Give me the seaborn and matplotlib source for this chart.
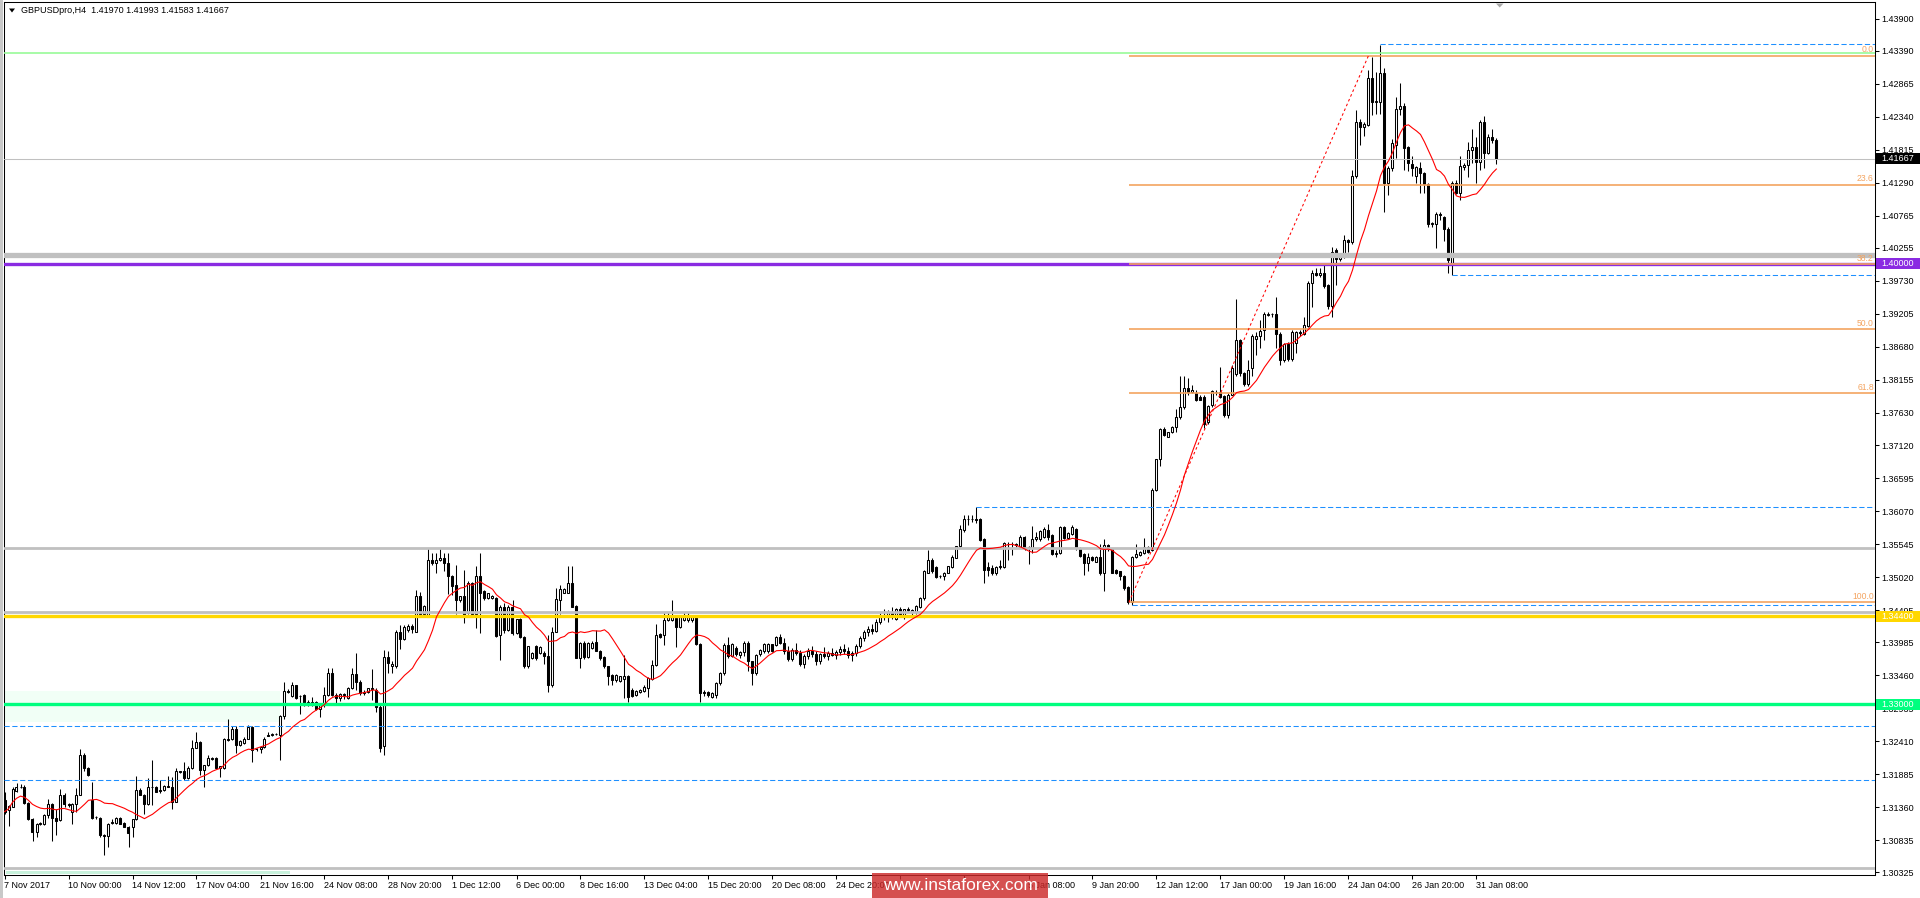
import numpy as np
import pandas as pd
import matplotlib
matplotlib.use("Agg")
import matplotlib.pyplot as plt
import matplotlib.transforms as mtransforms
from matplotlib.patches import Rectangle, Polygon
import seaborn as sns

# ---- data (open, high, low, close), GBPUSD H4 ----
title_text = "GBPUSDpro,H4  1.41970 1.41993 1.41583 1.41667"

nov_bars = [
    (1.3148, 1.3161, 1.3126, 1.3129), (1.3131, 1.3139, 1.3107, 1.3138), (1.3137, 1.3169, 1.3136, 1.3165),
    (1.3162, 1.3174, 1.3161, 1.3169), (1.3169, 1.3173, 1.3167, 1.3168), (1.3168, 1.3171, 1.3142, 1.3143),
    (1.3143, 1.3145, 1.3116, 1.3117), (1.3118, 1.3119, 1.3083, 1.3097), (1.3097, 1.3111, 1.3089, 1.3110),
    (1.3110, 1.3113, 1.3108, 1.3111), (1.3110, 1.3126, 1.3108, 1.3124), (1.3124, 1.3150, 1.3119, 1.3142),
    (1.3142, 1.3143, 1.3083, 1.3119), (1.3119, 1.3134, 1.3092, 1.3115), (1.3116, 1.3165, 1.3115, 1.3156),
    (1.3156, 1.3158, 1.3137, 1.3142), (1.3142, 1.3143, 1.3137, 1.3140), (1.3129, 1.3143, 1.3110, 1.3142),
    (1.3142, 1.3166, 1.3128, 1.3156), (1.3156, 1.3228, 1.3155, 1.3219), (1.3219, 1.3222, 1.3193, 1.3198),
    (1.3198, 1.3200, 1.3185, 1.3187), (1.3148, 1.3177, 1.3117, 1.3119), (1.3120, 1.3122, 1.3117, 1.3121),
    (1.3119, 1.3120, 1.3089, 1.3092), (1.3092, 1.3094, 1.3060, 1.3091), (1.3090, 1.3111, 1.3073, 1.3110),
    (1.3111, 1.3118, 1.3109, 1.3112), (1.3111, 1.3120, 1.3110, 1.3119), (1.3119, 1.3120, 1.3109, 1.3110),
    (1.3111, 1.3113, 1.3104, 1.3105), (1.3105, 1.3107, 1.3073, 1.3095), (1.3105, 1.3118, 1.3089, 1.3117),
    (1.3117, 1.3186, 1.3116, 1.3164), (1.3163, 1.3166, 1.3155, 1.3156), (1.3156, 1.3157, 1.3126, 1.3141),
    (1.3141, 1.3182, 1.3140, 1.3169), (1.3169, 1.3212, 1.3140, 1.3168), (1.3169, 1.3170, 1.3160, 1.3161),
    (1.3163, 1.3179, 1.3158, 1.3162), (1.3163, 1.3171, 1.3162, 1.3170), (1.3170, 1.3186, 1.3168, 1.3169),
    (1.3168, 1.3184, 1.3133, 1.3145), (1.3145, 1.3198, 1.3144, 1.3193), (1.3193, 1.3194, 1.3190, 1.3192),
    (1.3193, 1.3208, 1.3179, 1.3182), (1.3182, 1.3201, 1.3181, 1.3198), (1.3198, 1.3243, 1.3197, 1.3231),
    (1.3231, 1.3256, 1.3230, 1.3240), (1.3240, 1.3241, 1.3187, 1.3195), (1.3195, 1.3204, 1.3168, 1.3203),
    (1.3203, 1.3219, 1.3202, 1.3214), (1.3214, 1.3216, 1.3211, 1.3213), (1.3215, 1.3216, 1.3197, 1.3198),
    (1.3198, 1.3202, 1.3184, 1.3201), (1.3198, 1.3246, 1.3197, 1.3244), (1.3244, 1.3277, 1.3242, 1.3243),
    (1.3244, 1.3265, 1.3243, 1.3261), (1.3261, 1.3265, 1.3222, 1.3235), (1.3235, 1.3243, 1.3234, 1.3242),
    (1.3238, 1.3247, 1.3237, 1.3245), (1.3245, 1.3267, 1.3244, 1.3264), (1.3264, 1.3265, 1.3208, 1.3227),
    (1.3228, 1.3230, 1.3226, 1.3228), (1.3228, 1.3234, 1.3222, 1.3232), (1.3232, 1.3247, 1.3231, 1.3245),
    (1.3251, 1.3256, 1.3249, 1.3250), (1.3251, 1.3254, 1.3250, 1.3253), (1.3253, 1.3254, 1.3251, 1.3252),
    (1.3251, 1.3283, 1.3212, 1.3281), (1.3281, 1.3336, 1.3277, 1.3321), (1.3321, 1.3324, 1.3318, 1.3320),
    (1.3313, 1.3336, 1.3312, 1.3330), (1.3330, 1.3331, 1.3308, 1.3309), (1.3313, 1.3315, 1.3285, 1.3313),
    (1.3315, 1.3316, 1.3297, 1.3298), (1.3298, 1.3307, 1.3297, 1.3304), (1.3298, 1.3312, 1.3297, 1.3304),
    (1.3304, 1.3305, 1.3291, 1.3292), (1.3293, 1.3300, 1.3279, 1.3299), (1.3298, 1.3328, 1.3296, 1.3315),
    (1.3315, 1.3357, 1.3313, 1.3349), (1.3349, 1.3358, 1.3313, 1.3315), (1.3315, 1.3318, 1.3302, 1.3310),
    (1.3310, 1.3317, 1.3305, 1.3316), (1.3316, 1.3318, 1.3308, 1.3314), (1.3310, 1.3327, 1.3308, 1.3325),
    (1.3325, 1.3357, 1.3324, 1.3348), (1.3348, 1.3382, 1.3322, 1.3336), (1.3336, 1.3338, 1.3314, 1.3317),
    (1.3317, 1.3322, 1.3315, 1.3320), (1.3320, 1.3326, 1.3318, 1.3325), (1.3325, 1.3356, 1.3307, 1.3324),
    (1.3323, 1.3325, 1.3288, 1.3296), (1.3296, 1.3298, 1.3224, 1.3230), (1.3233, 1.3386, 1.3219, 1.3375),
    (1.3375, 1.3384, 1.3350, 1.3365), (1.3361, 1.3368, 1.3349, 1.3364), (1.3360, 1.3418, 1.3358, 1.3415),
    (1.3415, 1.3426, 1.3387, 1.3403), (1.3403, 1.3426, 1.3402, 1.3423), (1.3418, 1.3427, 1.3415, 1.3424),
    (1.3424, 1.3428, 1.3413, 1.3420), (1.3415, 1.3481, 1.3414, 1.3472), (1.3472, 1.3479, 1.3439, 1.3444),
    (1.3444, 1.3458, 1.3443, 1.3456), (1.3439, 1.3548, 1.3438, 1.3529), (1.3529, 1.3540, 1.3521, 1.3524),
    (1.3524, 1.3540, 1.3508, 1.3529),
]

dec_bars = [
    (1.3529, 1.3548, 1.3528, 1.3532), (1.3532, 1.3540, 1.3511, 1.3525), (1.3525, 1.3541, 1.3475, 1.3503),
    (1.3503, 1.3505, 1.3474, 1.3488), (1.3490, 1.3521, 1.3444, 1.3466), (1.3466, 1.3472, 1.3463, 1.3472),
    (1.3472, 1.3513, 1.3429, 1.3439), (1.3445, 1.3495, 1.3444, 1.3492), (1.3492, 1.3494, 1.3443, 1.3444),
    (1.3444, 1.3519, 1.3421, 1.3504), (1.3504, 1.3540, 1.3413, 1.3477), (1.3480, 1.3482, 1.3466, 1.3468),
    (1.3468, 1.3477, 1.3467, 1.3476), (1.3468, 1.3473, 1.3467, 1.3472), (1.3468, 1.3471, 1.3407, 1.3408),
    (1.3410, 1.3458, 1.3370, 1.3455), (1.3455, 1.3461, 1.3413, 1.3418), (1.3418, 1.3458, 1.3416, 1.3455),
    (1.3455, 1.3466, 1.3410, 1.3413), (1.3413, 1.3436, 1.3411, 1.3435), (1.3435, 1.3437, 1.3405, 1.3406),
    (1.3406, 1.3408, 1.3357, 1.3360), (1.3360, 1.3393, 1.3358, 1.3392), (1.3373, 1.3383, 1.3371, 1.3382),
    (1.3392, 1.3394, 1.3370, 1.3373), (1.3381, 1.3393, 1.3379, 1.3391), (1.3382, 1.3384, 1.3364, 1.3376),
    (1.3376, 1.3410, 1.3320, 1.3331), (1.3331, 1.3423, 1.3328, 1.3415), (1.3415, 1.3484, 1.3414, 1.3467),
    (1.3466, 1.3490, 1.3444, 1.3483), (1.3477, 1.3484, 1.3476, 1.3483), (1.3477, 1.3519, 1.3476, 1.3492),
    (1.3492, 1.3519, 1.3454, 1.3455), (1.3456, 1.3458, 1.3373, 1.3374), (1.3374, 1.3399, 1.3357, 1.3397),
    (1.3397, 1.3400, 1.3372, 1.3375), (1.3375, 1.3399, 1.3373, 1.3398), (1.3390, 1.3400, 1.3388, 1.3398),
    (1.3399, 1.3418, 1.3384, 1.3385), (1.3385, 1.3386, 1.3370, 1.3373), (1.3375, 1.3377, 1.3357, 1.3360),
    (1.3360, 1.3361, 1.3331, 1.3344), (1.3346, 1.3348, 1.3331, 1.3338), (1.3338, 1.3348, 1.3336, 1.3346),
    (1.3337, 1.3345, 1.3335, 1.3344), (1.3340, 1.3378, 1.3309, 1.3345), (1.3345, 1.3347, 1.3304, 1.3312),
    (1.3323, 1.3325, 1.3311, 1.3313), (1.3315, 1.3322, 1.3313, 1.3321), (1.3320, 1.3324, 1.3318, 1.3323),
    (1.3321, 1.3330, 1.3319, 1.3328), (1.3325, 1.3343, 1.3312, 1.3341), (1.3340, 1.3370, 1.3338, 1.3362),
    (1.3362, 1.3428, 1.3360, 1.3410), (1.3411, 1.3413, 1.3405, 1.3407), (1.3410, 1.3447, 1.3394, 1.3434),
    (1.3434, 1.3447, 1.3432, 1.3442), (1.3434, 1.3466, 1.3432, 1.3439), (1.3437, 1.3438, 1.3391, 1.3423),
    (1.3423, 1.3441, 1.3421, 1.3439), (1.3434, 1.3447, 1.3432, 1.3439), (1.3434, 1.3447, 1.3430, 1.3440),
    (1.3433, 1.3441, 1.3431, 1.3439), (1.3439, 1.3442, 1.3394, 1.3396), (1.3396, 1.3398, 1.3304, 1.3317),
    (1.3320, 1.3322, 1.3313, 1.3317), (1.3320, 1.3321, 1.3311, 1.3315), (1.3312, 1.3319, 1.3310, 1.3317),
    (1.3315, 1.3336, 1.3309, 1.3334), (1.3333, 1.3351, 1.3331, 1.3350), (1.3349, 1.3398, 1.3347, 1.3394),
    (1.3394, 1.3407, 1.3374, 1.3376), (1.3377, 1.3398, 1.3375, 1.3396), (1.3390, 1.3393, 1.3376, 1.3379),
    (1.3378, 1.3385, 1.3374, 1.3383), (1.3383, 1.3400, 1.3376, 1.3398), (1.3398, 1.3401, 1.3352, 1.3368),
    (1.3368, 1.3369, 1.3331, 1.3349), (1.3349, 1.3380, 1.3347, 1.3378), (1.3379, 1.3387, 1.3377, 1.3386),
    (1.3384, 1.3397, 1.3382, 1.3396), (1.3384, 1.3397, 1.3382, 1.3396), (1.3395, 1.3396, 1.3383, 1.3384),
    (1.3394, 1.3408, 1.3392, 1.3407), (1.3407, 1.3412, 1.3395, 1.3398), (1.3398, 1.3405, 1.3380, 1.3384),
    (1.3384, 1.3392, 1.3368, 1.3372), (1.3372, 1.3390, 1.3368, 1.3386), (1.3386, 1.3398, 1.3378, 1.3381),
    (1.3381, 1.3386, 1.3360, 1.3364), (1.3364, 1.3380, 1.3358, 1.3377), (1.3377, 1.3389, 1.3372, 1.3385),
    (1.3385, 1.3393, 1.3375, 1.3379), (1.3379, 1.3384, 1.3362, 1.3368), (1.3368, 1.3382, 1.3364, 1.3380),
    (1.3380, 1.3391, 1.3374, 1.3376), (1.3376, 1.3385, 1.3370, 1.3382), (1.3382, 1.3390, 1.3376, 1.3378),
    (1.3378, 1.3386, 1.3372, 1.3383), (1.3383, 1.3392, 1.3378, 1.3388), (1.3388, 1.3396, 1.3380, 1.3384),
    (1.3384, 1.3391, 1.3374, 1.3378), (1.3378, 1.3385, 1.3369, 1.3381), (1.3381, 1.3395, 1.3377, 1.3393),
    (1.3393, 1.3408, 1.3389, 1.3405), (1.3405, 1.3418, 1.3400, 1.3414), (1.3414, 1.3425, 1.3408, 1.3420),
    (1.3420, 1.3428, 1.3412, 1.3417), (1.3417, 1.3435, 1.3414, 1.3431), (1.3431, 1.3445, 1.3427, 1.3440),
    (1.3440, 1.3452, 1.3433, 1.3438), (1.3438, 1.3450, 1.3430, 1.3446), (1.3446, 1.3454, 1.3436, 1.3440),
    (1.3436, 1.3453, 1.3434, 1.3451), (1.3451, 1.3454, 1.3442, 1.3444), (1.3438, 1.3452, 1.3436, 1.3451),
    (1.3451, 1.3455, 1.3446, 1.3450), (1.3446, 1.3452, 1.3440, 1.3450), (1.3446, 1.3458, 1.3444, 1.3456),
    (1.3455, 1.3471, 1.3453, 1.3468), (1.3468, 1.3513, 1.3466, 1.3511), (1.3509, 1.3545, 1.3508, 1.3529),
    (1.3529, 1.3532, 1.3509, 1.3511), (1.3518, 1.3519, 1.3500, 1.3502), (1.3503, 1.3506, 1.3501, 1.3504),
    (1.3503, 1.3510, 1.3498, 1.3509),
]

jan_bars = [
    (1.3509, 1.3520, 1.3508, 1.3519), (1.3518, 1.3537, 1.3517, 1.3534), (1.3533, 1.3552, 1.3532, 1.3551),
    (1.3551, 1.3585, 1.3550, 1.3578), (1.3577, 1.3601, 1.3574, 1.3595), (1.3595, 1.3601, 1.3585, 1.3594),
    (1.3594, 1.3601, 1.3590, 1.3595), (1.3595, 1.3613, 1.3588, 1.3593), (1.3594, 1.3596, 1.3560, 1.3561),
    (1.3562, 1.3564, 1.3493, 1.3513), (1.3518, 1.3526, 1.3503, 1.3514), (1.3516, 1.3521, 1.3505, 1.3509),
    (1.3509, 1.3519, 1.3505, 1.3518), (1.3518, 1.3529, 1.3515, 1.3520), (1.3518, 1.3557, 1.3516, 1.3556),
    (1.3555, 1.3557, 1.3529, 1.3554), (1.3554, 1.3557, 1.3537, 1.3555), (1.3555, 1.3556, 1.3550, 1.3553),
    (1.3550, 1.3569, 1.3549, 1.3566), (1.3566, 1.3568, 1.3545, 1.3550), (1.3550, 1.3552, 1.3523, 1.3548),
    (1.3548, 1.3583, 1.3541, 1.3562), (1.3562, 1.3574, 1.3560, 1.3566), (1.3562, 1.3577, 1.3560, 1.3576),
    (1.3566, 1.3582, 1.3564, 1.3578), (1.3577, 1.3586, 1.3561, 1.3566), (1.3569, 1.3571, 1.3537, 1.3539),
    (1.3539, 1.3545, 1.3534, 1.3540), (1.3540, 1.3583, 1.3538, 1.3582), (1.3582, 1.3583, 1.3562, 1.3564),
    (1.3564, 1.3573, 1.3562, 1.3572), (1.3571, 1.3585, 1.3569, 1.3582), (1.3578, 1.3580, 1.3545, 1.3548),
    (1.3548, 1.3550, 1.3534, 1.3535), (1.3539, 1.3541, 1.3505, 1.3524), (1.3524, 1.3540, 1.3511, 1.3534),
    (1.3534, 1.3536, 1.3527, 1.3529), (1.3526, 1.3536, 1.3526, 1.3534), (1.3534, 1.3555, 1.3505, 1.3508),
    (1.3508, 1.3562, 1.3480, 1.3553), (1.3553, 1.3555, 1.3544, 1.3546), (1.3546, 1.3548, 1.3508, 1.3509),
    (1.3513, 1.3515, 1.3507, 1.3508), (1.3511, 1.3512, 1.3497, 1.3503), (1.3504, 1.3505, 1.3481, 1.3484),
    (1.3486, 1.3488, 1.3460, 1.3463), (1.3463, 1.3536, 1.3457, 1.3534), (1.3534, 1.3555, 1.3532, 1.3539),
    (1.3537, 1.3543, 1.3535, 1.3542), (1.3541, 1.3564, 1.3539, 1.3550), (1.3550, 1.3552, 1.3540, 1.3542),
    (1.3545, 1.3643, 1.3543, 1.3641), (1.3641, 1.3690, 1.3639, 1.3689), (1.3689, 1.3739, 1.3678, 1.3737),
    (1.3737, 1.3741, 1.3726, 1.3728), (1.3725, 1.3732, 1.3724, 1.3732), (1.3732, 1.3742, 1.3731, 1.3740),
    (1.3740, 1.3770, 1.3733, 1.3756), (1.3756, 1.3822, 1.3754, 1.3772), (1.3772, 1.3821, 1.3770, 1.3802),
    (1.3802, 1.3818, 1.3791, 1.3797), (1.3797, 1.3807, 1.3794, 1.3799), (1.3794, 1.3800, 1.3782, 1.3783),
    (1.3789, 1.3791, 1.3783, 1.3784), (1.3789, 1.3791, 1.3739, 1.3746), (1.3749, 1.3775, 1.3746, 1.3774),
    (1.3775, 1.3799, 1.3773, 1.3798), (1.3797, 1.3799, 1.3792, 1.3796), (1.3797, 1.3836, 1.3786, 1.3789),
    (1.3790, 1.3792, 1.3757, 1.3760), (1.3760, 1.3795, 1.3755, 1.3792), (1.3792, 1.3839, 1.3791, 1.3835),
    (1.3825, 1.3944, 1.3822, 1.3879), (1.3879, 1.3881, 1.3821, 1.3826), (1.3826, 1.3828, 1.3806, 1.3809),
    (1.3809, 1.3847, 1.3806, 1.3832), (1.3834, 1.3889, 1.3821, 1.3885), (1.3881, 1.3892, 1.3855, 1.3885),
    (1.3885, 1.3911, 1.3866, 1.3893), (1.3895, 1.3924, 1.3879, 1.3921), (1.3919, 1.3924, 1.3917, 1.3921),
    (1.3921, 1.3922, 1.3915, 1.3920), (1.3921, 1.3948, 1.3866, 1.3889), (1.3889, 1.3891, 1.3839, 1.3847),
    (1.3847, 1.3874, 1.3844, 1.3873), (1.3873, 1.3876, 1.3846, 1.3848), (1.3848, 1.3895, 1.3846, 1.3892),
    (1.3874, 1.3893, 1.3858, 1.3891), (1.3891, 1.3895, 1.3885, 1.3890), (1.3889, 1.3916, 1.3887, 1.3903),
    (1.3901, 1.3972, 1.3900, 1.3969), (1.3969, 1.3990, 1.3932, 1.3985), (1.3985, 1.3993, 1.3980, 1.3983),
    (1.3983, 1.3994, 1.3979, 1.3985), (1.3985, 1.4001, 1.3961, 1.3964), (1.3966, 1.3968, 1.3929, 1.3933),
    (1.3933, 1.4027, 1.3916, 1.4019), (1.4022, 1.4025, 1.3966, 1.4007), (1.4007, 1.4013, 1.4005, 1.4011),
    (1.4011, 1.4046, 1.4009, 1.4038), (1.4038, 1.4040, 1.4019, 1.4034), (1.4034, 1.4149, 1.4032, 1.4139),
    (1.4139, 1.4245, 1.4136, 1.4225), (1.4225, 1.4230, 1.4189, 1.4218), (1.4218, 1.4226, 1.4203, 1.4222),
    (1.4221, 1.4308, 1.4219, 1.4295), (1.4295, 1.4329, 1.4237, 1.4258), (1.4258, 1.4305, 1.4239, 1.4259),
    (1.4258, 1.4348, 1.4239, 1.4304), (1.4304, 1.4311, 1.4083, 1.4128), (1.4128, 1.4155, 1.4109, 1.4152),
    (1.4152, 1.4199, 1.4147, 1.4192), (1.4189, 1.4266, 1.4169, 1.4246), (1.4246, 1.4288, 1.4237, 1.4251),
    (1.4251, 1.4255, 1.4149, 1.4184), (1.4186, 1.4188, 1.4147, 1.4160), (1.4159, 1.4171, 1.4139, 1.4153),
    (1.4139, 1.4155, 1.4128, 1.4154), (1.4152, 1.4162, 1.4112, 1.4144), (1.4144, 1.4146, 1.4112, 1.4127),
    (1.4127, 1.4129, 1.4059, 1.4064), (1.4064, 1.4067, 1.4059, 1.4065), (1.4064, 1.4083, 1.4025, 1.4080),
    (1.4080, 1.4082, 1.4070, 1.4077), (1.4074, 1.4076, 1.4037, 1.4056), (1.4056, 1.4058, 1.3985, 1.4006),
    (1.3998, 1.4131, 1.3982, 1.4129), (1.4129, 1.4133, 1.4111, 1.4113), (1.4113, 1.4171, 1.4101, 1.4155),
    (1.4154, 1.4161, 1.4150, 1.4157), (1.4157, 1.4194, 1.4138, 1.4181), (1.4181, 1.4215, 1.4160, 1.4186),
    (1.4186, 1.4201, 1.4128, 1.4162), (1.4162, 1.4228, 1.4149, 1.4226), (1.4225, 1.4235, 1.4153, 1.4177),
    (1.4176, 1.4206, 1.4174, 1.4201), (1.4201, 1.4215, 1.4192, 1.4197), (1.41970, 1.41993, 1.41583, 1.41667),
]

price_ticks = [1.43900, 1.43390, 1.42865, 1.42340, 1.41815, 1.41290, 1.40765, 1.40255, 1.39730,
               1.39205, 1.38680, 1.38155, 1.37630, 1.37120, 1.36595, 1.36070, 1.35545, 1.35020,
               1.34495, 1.33985, 1.33460, 1.32935, 1.32410, 1.31885, 1.31360, 1.30835, 1.30325]

# the two labels under the watermark are not readable in the screenshot
time_tick_bars = [0, 16, 32, 48, 64, 80, 96, 112, 128, 144, 160, 176, 192, 208, 224, 240,
                  256, 272, 288, 304, 320, 336, 352, 368]
time_tick_labels = ["7 Nov 2017", "10 Nov 00:00", "14 Nov 12:00", "17 Nov 04:00", "21 Nov 16:00",
                    "24 Nov 08:00", "28 Nov 20:00", "1 Dec 12:00", "6 Dec 00:00", "8 Dec 16:00",
                    "13 Dec 04:00", "15 Dec 20:00", "20 Dec 08:00", "24 Dec 20:00", "",
                    "", "5 Jan 08:00", "9 Jan 20:00", "12 Jan 12:00", "17 Jan 00:00",
                    "19 Jan 16:00", "24 Jan 04:00", "26 Jan 20:00", "31 Jan 08:00"]

# horizontal levels drawn on the chart
current_price = 1.41667
round_levels = {"purple": 1.40000, "gold": 1.34400, "green": 1.33000}
grey_levels = [1.4014, 1.3549, 1.3446, 1.3039]
top_line = 1.4336
dashed_levels = [(344, 1.4349), (362, 1.3982), (243, 1.3613), (282, 1.3457), (None, 1.3266), (None, 1.3179)]

fib_low, fib_high = 1.3462, 1.4331
fib_start, fib_end = 281.1, 341
fib_ratios = [0.0, 0.236, 0.382, 0.5, 0.618, 1.0]
fib_names = ["0.0", "23.6", "38.2", "50.0", "61.8", "100.0"]

# ---- figure ----
W, H = 1920, 898
sns.set_theme(style="white")
plt.rcParams["font.family"] = ["Liberation Sans", "DejaVu Sans"]

fig = plt.figure(figsize=(W / 100, H / 100), dpi=100)
fig.patch.set_facecolor("white")
L, R, T, B = 4, 1875, 2, 875
ax = fig.add_axes([L / W, 1 - B / H, (R - L) / W, (B - T) / H])
ax.set_facecolor("white")

bars = pd.DataFrame(nov_bars + dec_bars + jan_bars, columns=["open", "high", "low", "close"])
bars["bar"] = np.arange(len(bars))
bars["ma"] = bars["close"].rolling(14, min_periods=1).mean()

x_lo = -0.125
x_hi = x_lo + (R - L) / 4.0
y_hi = 1.44163
y_lo = y_hi - (B - T) / 6290.0

# background objects
ax.add_patch(Rectangle((x_lo, 1.3272), 69 - x_lo, 0.0049, color="#f1fff6", zorder=0.5, lw=0))
ax.add_patch(Rectangle((x_lo + 0.5, 1.30300), 71, 0.00045, color="#c8f2dc", zorder=0.6, lw=0))

# candles
up = bars["close"] >= bars["open"]
body = (bars["close"] - bars["open"]).abs().clip(lower=0.00002)
ax.vlines(bars["bar"], bars["low"], bars["high"], color="black", lw=0.75, zorder=3)
ax.bar(bars["bar"][up], body[up], bottom=bars["open"][up], width=0.5,
       color="white", edgecolor="black", linewidth=0.75, zorder=3.5)
ax.bar(bars["bar"][~up], body[~up], bottom=bars["close"][~up], width=0.5,
       color="black", edgecolor="black", linewidth=0.75, zorder=3.5)

# horizontal levels
for lvl in grey_levels:
    lw = 3.8 if lvl > 1.40 else 2.0
    ax.axhline(lvl, color="#c0c0c0", lw=lw, zorder=4)
ax.axhline(current_price, color="#c0c0c0", lw=0.75, zorder=4)
ax.axhline(top_line, color="#98fb98", lw=1.2, zorder=4)
ax.axhline(round_levels["purple"], color="#8a2be2", lw=2.4, zorder=4.2)
ax.axhline(round_levels["gold"], color="#ffd700", lw=2.4, zorder=4.2)
ax.axhline(round_levels["green"], color="#00ff7f", lw=2.4, zorder=4.2)

for start, lvl in dashed_levels:
    x0 = x_lo if start is None else start
    ax.hlines(lvl, x0, x_hi, color="#1e90ff", lw=0.75, linestyles=(0, (5, 2.5)), zorder=4.1)

# fibonacci retracement
fib_color = "#f4a460"
for r, name in zip(fib_ratios, fib_names):
    lvl = fib_high - r * (fib_high - fib_low)
    ax.hlines(lvl, fib_start, x_hi, color=fib_color, lw=1.2, zorder=4.3)
    ax.text(x_hi - 0.3, lvl + 0.0002, name, ha="right", va="bottom", color=fib_color,
            fontsize=6.2, zorder=6)
ax.plot([fib_start, fib_end], [fib_low, fib_high], color="red", lw=0.75, ls=(0, (2.5, 2.5)), zorder=4.4)

# moving average
sns.lineplot(data=bars, x="bar", y="ma", color="red", lw=0.8, ax=ax, zorder=5)

ax.set_xlim(x_lo, x_hi)
ax.set_ylim(y_lo, y_hi)
ax.set_xlabel("")
ax.set_ylabel("")
ax.grid(False)

# axes cosmetics
for side in ["left", "right", "top", "bottom"]:
    ax.spines[side].set_visible(True)
    ax.spines[side].set_color("black")
    ax.spines[side].set_linewidth(0.75)

ax.yaxis.tick_right()
ax.set_yticks(price_ticks)
ax.set_yticklabels([f"{v:.5f}" for v in price_ticks])
ax.tick_params(axis="y", which="both", right=True, left=False, direction="out", length=3,
               width=0.75, pad=1.5, labelsize=6.5, colors="black")
ax.set_xticks(time_tick_bars)
ax.set_xticklabels(time_tick_labels)
ax.tick_params(axis="x", which="both", bottom=True, top=False, direction="out", length=3,
               width=0.75, pad=1.0, labelsize=6.5, colors="black")
for lbl in ax.get_xticklabels():
    lbl.set_horizontalalignment("left")

# price boxes on the right scale
trans = mtransforms.blended_transform_factory(fig.transFigure, ax.transData)
box_h = 11 / 6290.0
for price, face in [(current_price, "black"), (round_levels["purple"], "#8a2be2"),
                    (round_levels["gold"], "#ffd700"), (round_levels["green"], "#00ff7f")]:
    ax.add_patch(Rectangle((1876 / W, price - box_h / 2), 44 / W, box_h, transform=trans,
                           facecolor=face, edgecolor="none", clip_on=False, zorder=10))
    ax.text(1881 / W, price, f"{price:.5f}", transform=trans, color="white", fontsize=6.5,
            ha="left", va="center", clip_on=False, zorder=11)

# window decorations
fig.add_artist(Rectangle((0, 0), 3 / W, 1, transform=fig.transFigure, color="#c8c8c8", lw=0))
fig.add_artist(Polygon([(9 / W, 1 - 8.5 / H), (15 / W, 1 - 8.5 / H), (12 / W, 1 - 12.5 / H)],
                       closed=True, transform=fig.transFigure, color="black", lw=0))
fig.text(21 / W, 1 - 10.5 / H, title_text, fontsize=6.5, color="black", ha="left", va="center")
fig.add_artist(Polygon([(1496 / W, 1 - 3.5 / H), (1503.5 / W, 1 - 3.5 / H), (1499.7 / W, 1 - 7.5 / H)],
                       closed=True, transform=fig.transFigure, color="#a8a8a8", lw=0))

# watermark
fig.add_artist(Rectangle((872 / W, 0), 176 / W, 25 / H, transform=fig.transFigure,
                         facecolor="#cc2a2a", alpha=0.82, lw=0, zorder=20))
fig.text(960 / W, 1 - 886 / H, "www.instaforex.com", fontsize=12.5, color="white",
         ha="center", va="center", zorder=21)

fig.savefig("out.png", dpi=100, facecolor="white")
